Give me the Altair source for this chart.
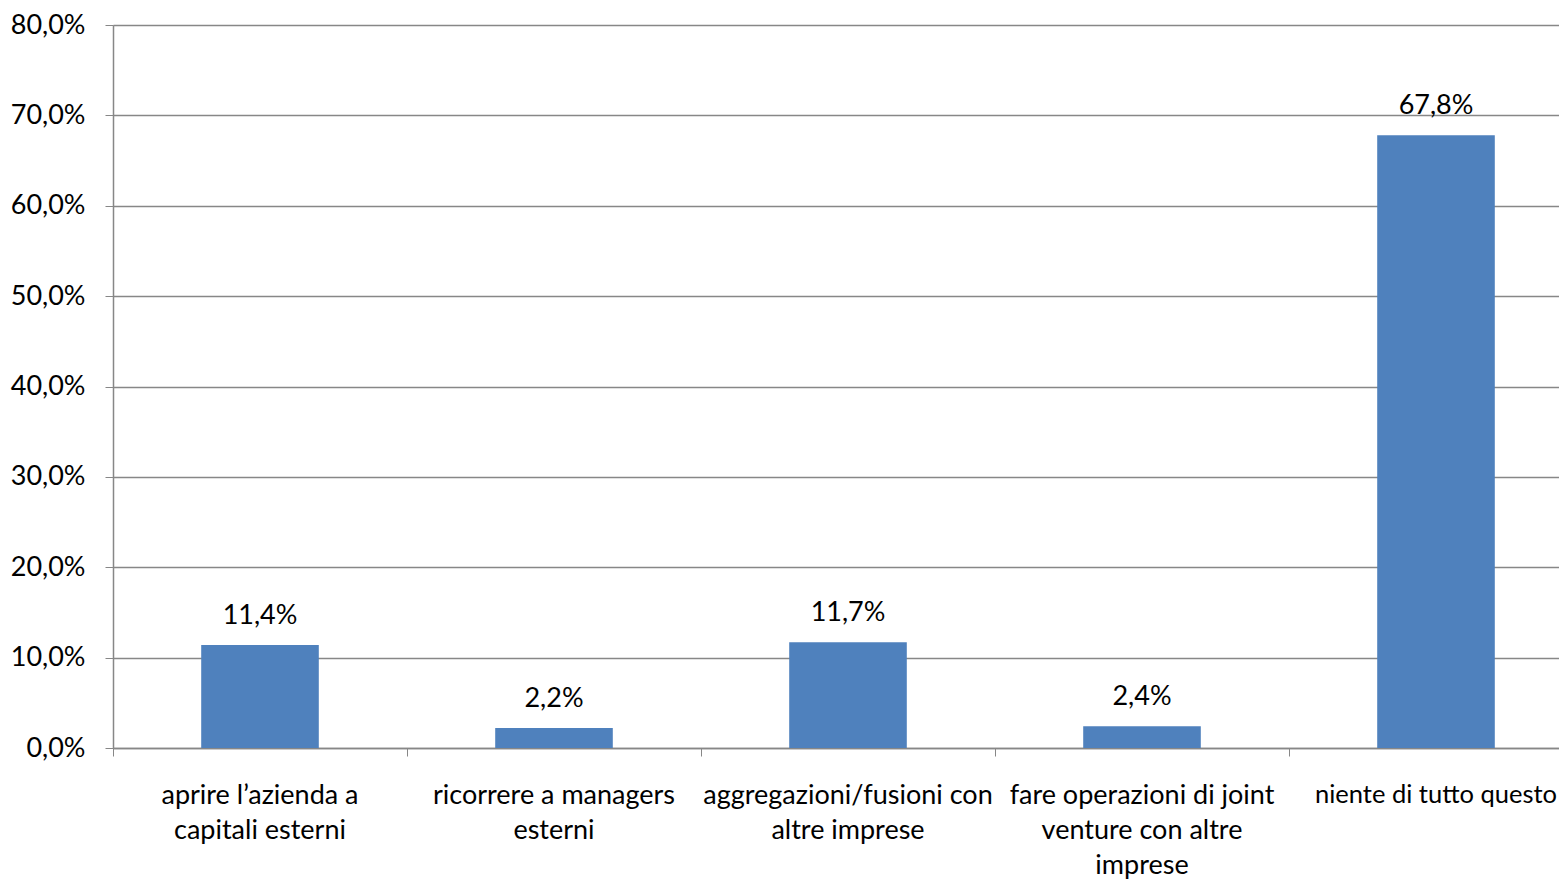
import altair as alt
import pandas as pd

categories = [
    "aprire l’azienda a|capitali esterni",
    "ricorrere a managers|esterni",
    "aggregazioni/fusioni con|altre imprese",
    "fare operazioni di joint|venture con altre|imprese",
    "niente di tutto questo",
]
values = [11.4, 2.2, 11.7, 2.4, 67.8]

df = pd.DataFrame({"cat": categories, "val": values})
df["lab"] = [f"{v:.1f}".replace(".", ",") + "%" for v in values]

FONT = "Lato"
GRID = "#878787"

x = alt.X(
    "cat:N",
    sort=categories,
    scale=alt.Scale(range=[0, 1470], paddingInner=0, paddingOuter=0),
    axis=alt.Axis(
        title=None,
        labelAngle=0,
        labelExpr="split(datum.label, '|')",
        labelFont=FONT,
        labelFontSize={"condition": {"test": "datum.value == 'niente di tutto questo'", "value": 25.5}, "value": 27},
        labelColor="#000000",
        labelLineHeight=35,
        labelPadding=26,
        labelLimit=400,
        bandPosition=0,
        ticks=True,
        tickSize=8,
        tickColor=GRID,
        domainColor=GRID,
        domainWidth=1.5,
        grid=False,
    ),
)

y = alt.Y(
    "val:Q",
    scale=alt.Scale(domain=[0, 80], nice=False),
    axis=alt.Axis(
        title=None,
        values=[0, 10, 20, 30, 40, 50, 60, 70, 80],
        labelExpr="replace(format(datum.value, '.1f'), '.', ',') + '%'",
        labelFont=FONT,
        labelFontSize=27,
        labelColor="#000000",
        labelPadding=20,
        tickSize=8,
        tickColor=GRID,
        domainColor=GRID,
        domainWidth=1.5,
        gridColor=GRID,
        gridWidth=1.5,
    ),
)

bars = alt.Chart(df).mark_bar(
    color="#4F81BD", width=alt.RelativeBandSize(0.4)
).encode(x=x, y=y)

text = alt.Chart(df).mark_text(
    font=FONT, fontSize=27, color="#000000", baseline="bottom", dy=-15
).encode(x=alt.X("cat:N", sort=categories), y="val:Q", text="lab:N")

chart = (
    alt.layer(bars, text)
    .properties(
        width=1446,
        height=723,
        padding={"left": 105, "top": 17, "right": 0, "bottom": 133},
        autosize=alt.AutoSizeParams(type="none"),
    )
    .configure_view(stroke=None)
    .configure(background="white")
)

chart.save("out.html", embed_options={"renderer": "svg", "actions": False})
